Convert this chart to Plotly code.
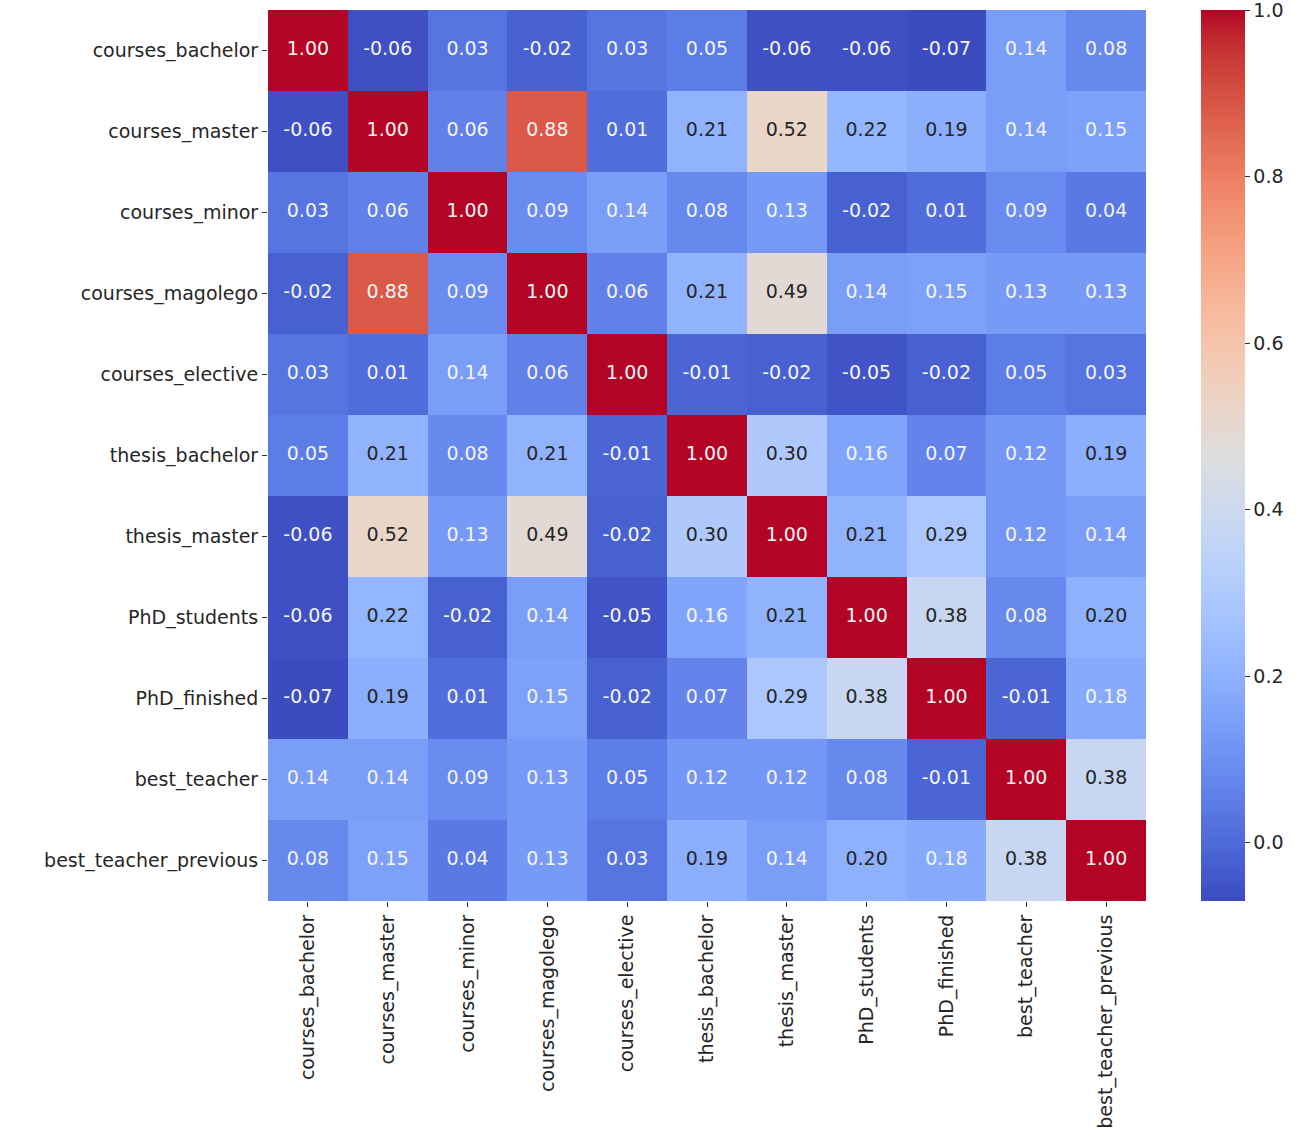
import plotly.graph_objects as go

labels = ["courses_bachelor", "courses_master", "courses_minor", "courses_magolego",
          "courses_elective", "thesis_bachelor", "thesis_master", "PhD_students",
          "PhD_finished", "best_teacher", "best_teacher_previous"]

corr = [
    [1.00, -0.06, 0.03, -0.02, 0.03, 0.05, -0.06, -0.06, -0.07, 0.14, 0.08],
    [-0.06, 1.00, 0.06, 0.88, 0.01, 0.21, 0.52, 0.22, 0.19, 0.14, 0.15],
    [0.03, 0.06, 1.00, 0.09, 0.14, 0.08, 0.13, -0.02, 0.01, 0.09, 0.04],
    [-0.02, 0.88, 0.09, 1.00, 0.06, 0.21, 0.49, 0.14, 0.15, 0.13, 0.13],
    [0.03, 0.01, 0.14, 0.06, 1.00, -0.01, -0.02, -0.05, -0.02, 0.05, 0.03],
    [0.05, 0.21, 0.08, 0.21, -0.01, 1.00, 0.30, 0.16, 0.07, 0.12, 0.19],
    [-0.06, 0.52, 0.13, 0.49, -0.02, 0.30, 1.00, 0.21, 0.29, 0.12, 0.14],
    [-0.06, 0.22, -0.02, 0.14, -0.05, 0.16, 0.21, 1.00, 0.38, 0.08, 0.20],
    [-0.07, 0.19, 0.01, 0.15, -0.02, 0.07, 0.29, 0.38, 1.00, -0.01, 0.18],
    [0.14, 0.14, 0.09, 0.13, 0.05, 0.12, 0.12, 0.08, -0.01, 1.00, 0.38],
    [0.08, 0.15, 0.04, 0.13, 0.03, 0.19, 0.14, 0.20, 0.18, 0.38, 1.00],
]

cbar_ticks = [0.0, 0.2, 0.4, 0.6, 0.8, 1.0]

coolwarm_rgb = [
    (59, 76, 192), (68, 90, 204), (77, 104, 215), (87, 117, 225), (98, 130, 234),
    (108, 142, 241), (119, 154, 247), (130, 165, 251), (141, 176, 254), (152, 185, 255),
    (163, 194, 255), (174, 201, 253), (184, 208, 249), (194, 213, 244), (204, 217, 238),
    (213, 219, 230), (221, 221, 221), (229, 216, 209), (236, 211, 197), (241, 204, 184),
    (245, 196, 172), (247, 187, 160), (247, 177, 148), (247, 166, 135), (244, 154, 123),
    (241, 141, 111), (236, 127, 99), (229, 112, 88), (222, 96, 77), (213, 80, 66),
    (203, 62, 56), (192, 40, 47), (180, 4, 38),
]
n = len(coolwarm_rgb) - 1
colorscale = [[i / n, "rgb(%d,%d,%d)" % c] for i, c in enumerate(coolwarm_rgb)]

zmin, zmax = -0.07, 1.0
FONT = "DejaVu Sans"
FS = 19

# body margin is removed by post_script, so the figure fills the window exactly
W, H = 1306, 1147
L, R, T, B = 268, 160, 10, 246
plot_w = W - L - R

fig = go.Figure()
fig.add_trace(go.Heatmap(
    z=corr, x=labels, y=labels, colorscale=colorscale, zmin=zmin, zmax=zmax,
    xgap=0, ygap=0,
    colorbar=dict(
        thickness=44, thicknessmode="pixels", len=1.0, lenmode="fraction",
        y=0.5, yanchor="middle", ypad=0,
        x=(1201 - L) / plot_w, xanchor="left", xpad=0, outlinewidth=0,
        tickvals=cbar_ticks, ticktext=["%.1f" % t for t in cbar_ticks],
        ticks="outside", ticklen=5, tickcolor="#333", tickwidth=1,
        ticklabeloverflow="allow",
        tickfont=dict(family=FONT, size=FS, color="#262626"),
    ),
))

xs, ys, txt, cols = [], [], [], []
for i, row in enumerate(corr):
    for j, v in enumerate(row):
        xs.append(labels[j])
        ys.append(labels[i])
        txt.append("%.2f" % v)
        cols.append("#262626" if 0.185 <= v <= 0.7 else "#f4f4f4")

fig.add_trace(go.Scatter(
    x=xs, y=ys, mode="text", text=txt,
    textfont=dict(family=FONT, size=FS, color=cols),
    showlegend=False, hoverinfo="skip", cliponaxis=False,
))

nlab = len(labels)
fig.update_layout(
    width=W, height=H,
    margin=dict(l=L, r=R, t=T, b=B, autoexpand=False),
    paper_bgcolor="white", plot_bgcolor="white",
    xaxis=dict(tickangle=-90, ticks="outside", ticklen=5, tickcolor="#333", automargin=False,
               tickfont=dict(family=FONT, size=FS, color="#262626"),
               range=[-0.5, nlab - 0.5], autorange=False,
               showgrid=False, zeroline=False),
    yaxis=dict(ticks="outside", ticklen=5, tickcolor="#333", automargin=False,
               tickfont=dict(family=FONT, size=FS, color="#262626"),
               range=[nlab - 0.5, -0.5], autorange=False,
               showgrid=False, zeroline=False),
)

fig.write_html("out.html", config={"displayModeBar": False},
               post_script="document.body.style.margin='0';document.body.style.overflow='hidden';")
